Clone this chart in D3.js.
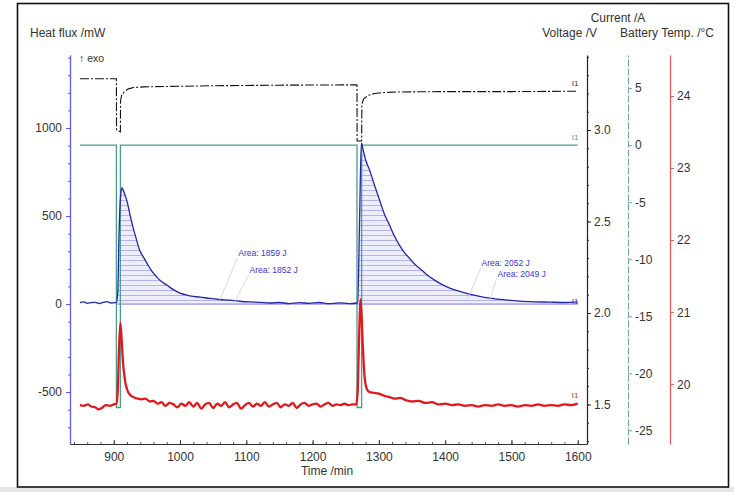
<!DOCTYPE html>
<html><head><meta charset="utf-8">
<script src="https://d3js.org/d3.v7.min.js"></script>
<style>
body{margin:0;background:#fff}
text{font-family:"Liberation Sans",Arial,sans-serif}
</style>
</head><body>
<svg id="chart" width="734" height="492"></svg>
<script>
// heat flux /mW  [time min, value]
var heatFlux = [[849,8],[855,12],[860,4],[866,8],[872,10],[878,3],[884,9],[890,14],[896,6],[902,8],[904,10],
	[906,60],[908,400],[911,640],[912.5,660],[916,630],[920,585],[925,500],[929,437],[934,370],[939,307],[945,265],
	[950,233],[957,190],[965,153],[972,128],[980,108],[990,82],[1000,62],[1010,51],[1020,44],[1030,40],[1045,32],
	[1060,26],[1075,22],[1090,16],[1105,12],[1120,10],[1135,6],[1150,9],[1165,3],[1180,8],[1195,4],[1210,9],
	[1225,2],[1240,7],[1255,3],[1266,6],
	[1268,8],[1271,500],[1273.5,915],[1276,880],[1280,820],[1286,761],[1293,680],[1301,591],[1308,515],[1316,449],
	[1323,390],[1331,335],[1338,295],[1346,261],[1353,230],[1361,205],[1372,168],[1384,136],[1395,112],[1407,91],
	[1422,72],[1437,57],[1452,44],[1467,34],[1490,24],[1512,17],[1535,13],[1558,11],[1580,9],[1600,12]];

// voltage /V
var voltage = [[849,3.28],[904,3.28],[904.2,3.0],[910,2.99],[910.3,3.16],[912,3.19],[916,3.21],[922,3.225],
	[930,3.232],[945,3.236],[980,3.238],[1050,3.242],[1150,3.245],[1267,3.247],[1267.2,2.94],[1274,2.94],
	[1274.3,3.14],[1277,3.17],[1284,3.19],[1294,3.2],[1307,3.205],[1330,3.208],[1400,3.21],[1500,3.21],[1600,3.212]];

// current /A
var current = [[849,0],[904,0],[904.01,-23],[910,-23],[910.01,0],[1267,0],[1267.01,-23],[1274,-23],[1274.01,0],[1600,0]];

// battery temp /°C
var batteryTemp = [[849,19.71],[855,19.70],[861,19.72],[866,19.69],[872,19.68],[877,19.65],[882,19.67],[888,19.71],
	[894,19.70],[900,19.72],[904,19.73],[906,19.9],[908,20.5],[910,20.85],[912,20.6],[914,20.3],[917,20.05],
	[920,19.93],[925,19.85],[930,19.82],[936,19.80],[942,19.79],[948,19.80],[954,19.76],[960,19.77],[966,19.73],
	[972,19.75],[978,19.70],[984,19.74],[990,19.72],[996,19.68],[1002,19.73],[1008,19.70],[1014,19.75],[1020,19.69],
	[1026,19.74],[1032,19.66],[1038,19.72],[1044,19.74],[1050,19.67],[1056,19.73],[1062,19.70],[1068,19.75],
	[1074,19.68],[1080,19.72],[1086,19.74],[1092,19.66],[1098,19.71],[1104,19.74],[1110,19.69],[1116,19.73],
	[1122,19.70],[1128,19.75],[1134,19.69],[1140,19.72],[1146,19.74],[1152,19.68],[1158,19.72],[1164,19.70],
	[1170,19.74],[1176,19.67],[1182,19.72],[1188,19.74],[1194,19.70],[1200,19.72],[1206,19.73],[1212,19.69],
	[1218,19.72],[1224,19.74],[1230,19.70],[1236,19.72],[1242,19.71],[1248,19.73],[1254,19.71],[1260,19.72],
	[1266,19.72],[1268,19.9],[1270,20.6],[1272.5,21.18],[1275,20.7],[1277,20.3],[1279,20.05],[1282,19.93],
	[1286,19.89],[1292,19.88],[1300,19.87],[1308,19.84],[1316,19.82],[1324,19.80],[1332,19.81],[1340,19.78],
	[1350,19.76],[1360,19.77],[1370,19.74],[1380,19.75],[1390,19.72],[1400,19.73],[1410,19.71],[1420,19.72],
	[1430,19.70],[1440,19.71],[1450,19.69],[1460,19.71],[1470,19.70],[1480,19.72],[1490,19.70],[1500,19.71],
	[1510,19.69],[1520,19.71],[1530,19.70],[1540,19.72],[1550,19.70],[1560,19.71],[1570,19.70],[1580,19.72],
	[1590,19.71],[1600,19.73]];

// integrated peaks: [from, to]
var peakRanges = [[904.5,1266],[1268,1600]];
// area labels: text, time, heat flux position, leader end [time, value]
var areaLabels = [
	{text:"Area: 1859 J", t:1088, v:272, lt:1060, lv:23},
	{text:"Area: 1852 J", t:1105, v:176, lt:1082, lv:11},
	{text:"Area: 2052 J", t:1455, v:216, lt:1434, lv:28},
	{text:"Area: 2049 J", t:1479, v:153, lt:1467, lv:23}
];

var timeTicks = [900,1000,1100,1200,1300,1400,1500,1600];
var heatTicks = [-500,0,500,1000];
var voltTicks = [1.5,2.0,2.5,3.0];
var currTicks = [5,0,-5,-10,-15,-20,-25];
var tempTicks = [20,21,22,23,24];

var svg = d3.select("#chart");
var top_ = 55, bottom = 444, left = 70, right = 587;
var plain = function(d){ return String(d); };

var x = d3.scaleLinear().domain([834,1614]).range([left,right]);
var yH = d3.scaleLinear().domain([-795,1415]).range([bottom,top_]);
var yV = d3.scaleLinear().domain([1.284,3.41]).range([bottom,top_]);
var yI = d3.scaleLinear().domain([-26.2,7.9]).range([bottom,top_]);
var yT = d3.scaleLinear().domain([19.17,24.57]).range([bottom,top_]);

// outer frame
svg.append("rect").attr("x",0).attr("y",487).attr("width",734).attr("height",5).attr("fill","#e6e6e6");
svg.append("rect").attr("x",17.5).attr("y",3.5).attr("width",711).attr("height",483.5)
	.attr("fill","none").attr("stroke","#111").attr("stroke-width",1.6);

// hatch pattern
var defs = svg.append("defs");
var pat = defs.append("pattern").attr("id","hatch").attr("patternUnits","userSpaceOnUse")
	.attr("width",4).attr("height",5);
pat.append("rect").attr("width",4).attr("height",5).attr("fill","#eeeefc");
pat.append("line").attr("x1",0).attr("x2",4).attr("y1",0.5).attr("y2",0.5)
	.attr("stroke","#9a9aea").attr("stroke-width",0.7);

// bottom time axis
var gx = svg.append("g").attr("transform","translate(0,"+bottom+")");
gx.call(d3.axisBottom(x).tickValues(d3.range(840,1620,20)).tickSize(-2).tickFormat(""))
	.select(".domain").remove();
gx.selectAll(".tick line").attr("stroke","#555");
var gx2 = svg.append("g").attr("transform","translate(0,"+bottom+")");
gx2.call(d3.axisBottom(x).tickValues(timeTicks).tickSize(-4).tickSizeOuter(0).tickPadding(8).tickFormat(plain));
gx2.select(".domain").attr("stroke","#333");
gx2.selectAll(".tick line").attr("stroke","#333");
gx2.selectAll("text").attr("fill","#333").attr("font-size",12);
svg.append("text").attr("x",327).attr("y",475).attr("text-anchor","middle")
	.attr("font-size",12).attr("fill","#333").text("Time /min");

// left heat flux axis
var gH = svg.append("g").attr("transform","translate("+left+",0)");
gH.call(d3.axisLeft(yH).tickValues(d3.range(-700,1401,100)).tickSize(2).tickFormat(""));
gH.select(".domain").remove();
gH.selectAll(".tick line").attr("stroke","#5b5bee");
var gH2 = svg.append("g").attr("transform","translate("+left+",0)");
gH2.call(d3.axisLeft(yH).tickValues(heatTicks).tickSize(4).tickSizeOuter(0).tickPadding(4).tickFormat(plain));
gH2.select(".domain").attr("stroke","#5b5bee").attr("stroke-width",1.3);
gH2.selectAll(".tick line").attr("stroke","#5b5bee");
gH2.selectAll("text").attr("fill","#333").attr("font-size",12);

// voltage axis
var gV = svg.append("g").attr("transform","translate("+right+",0)");
gV.call(d3.axisRight(yV).tickValues(d3.range(1.3,3.41,0.1)).tickSize(2).tickFormat(""));
gV.select(".domain").remove();
gV.selectAll(".tick line").attr("stroke","#222");
var gV2 = svg.append("g").attr("transform","translate("+right+",0)");
gV2.call(d3.axisRight(yV).tickValues(voltTicks).tickSize(4).tickSizeOuter(0).tickPadding(3)
	.tickFormat(function(d){ return d.toFixed(1); }));
gV2.select(".domain").attr("stroke","#222").attr("stroke-width",1.2);
gV2.selectAll(".tick line").attr("stroke","#222");
gV2.selectAll("text").attr("fill","#333").attr("font-size",12);

// current axis
var gI = svg.append("g").attr("transform","translate(628,0)");
gI.call(d3.axisRight(yI).tickValues(currTicks).tickSize(4).tickSizeOuter(0).tickPadding(3).tickFormat(plain));
gI.select(".domain").attr("stroke","#6aa89a").attr("stroke-dasharray","7,2");
gI.selectAll(".tick line").attr("stroke","#6aa89a");
gI.selectAll("text").attr("fill","#333").attr("font-size",12);

// temp axis
var gT = svg.append("g").attr("transform","translate(670,0)");
gT.call(d3.axisRight(yT).tickValues(tempTicks).tickSize(4).tickSizeOuter(0).tickPadding(3).tickFormat(plain));
gT.select(".domain").attr("stroke","#e8505a").attr("stroke-width",1.2);
gT.selectAll(".tick line").attr("stroke","#e8505a");
gT.selectAll("text").attr("fill","#333").attr("font-size",12);

// axis titles
function label(txt,xp,yp,anchor,size){
	return svg.append("text").attr("x",xp).attr("y",yp).attr("text-anchor",anchor||"start")
		.attr("font-size",size||12).attr("fill","#333").text(txt);
}
label("Heat flux /mW",30,37);
label("Current /A",618,22,"middle");
label("Voltage /V",597,37,"end");
label("Battery Temp. /°C",620,37);
label("\u2191 exo",79,62,"start",10.5);

// hatched peak areas
var area = d3.area().x(function(d){ return x(d[0]); })
	.y0(yH(0)).y1(function(d){ return yH(d[1]); });
peakRanges.forEach(function(r){
	var seg = heatFlux.filter(function(d){ return d[0] >= r[0] && d[0] <= r[1]; });
	svg.append("path").datum(seg).attr("d",area).attr("fill","url(#hatch)");
});
// integration baseline
svg.append("line").attr("x1",x(peakRanges[0][0])).attr("x2",x(1600))
	.attr("y1",yH(0)).attr("y2",yH(0)).attr("stroke","#7b7be8").attr("stroke-width",1);

var line = d3.line().x(function(d){ return x(d[0]); });

// current
svg.append("path").datum(current)
	.attr("d",line.y(function(d){ return yI(d[1]); }))
	.attr("fill","none").attr("stroke","#4a9e8e").attr("stroke-width",1.3);

// battery temp
svg.append("path").datum(batteryTemp)
	.attr("d",line.y(function(d){ return yT(d[1]); }).curve(d3.curveMonotoneX))
	.attr("fill","none").attr("stroke","#e3181c").attr("stroke-width",2.3);

// heat flux
svg.append("path").datum(heatFlux)
	.attr("d",line.y(function(d){ return yH(d[1]); }).curve(d3.curveMonotoneX))
	.attr("fill","none").attr("stroke","#2525aa").attr("stroke-width",1.3);

// voltage
svg.append("path").datum(voltage)
	.attr("d",line.y(function(d){ return yV(d[1]); }).curve(d3.curveLinear))
	.attr("fill","none").attr("stroke","#111").attr("stroke-width",1.1).attr("stroke-dasharray","9,2,2,2");

// area labels with leader lines
areaLabels.forEach(function(a){
	svg.append("line").attr("x1",x(a.t)-1).attr("y1",yH(a.v)+2)
		.attr("x2",x(a.lt)).attr("y2",yH(a.lv))
		.attr("stroke","#bcd6c4").attr("stroke-width",0.8);
	svg.append("text").attr("x",x(a.t)).attr("y",yH(a.v)).attr("font-size",8.5)
		.attr("fill","#3535d0").text(a.text);
});

// curve end labels
var endLabels = [
	{y: yV(voltage[voltage.length-1][1]) - 5, c:"#333"},
	{y: yI(0) - 5, c:"#4a9e8e"},
	{y: yH(heatFlux[heatFlux.length-1][1]) + 2, c:"#3535d0"},
	{y: yT(batteryTemp[batteryTemp.length-1][1]) - 6, c:"#c03030"}
];
endLabels.forEach(function(e){
	svg.append("text").attr("x",x(1600)-6).attr("y",e.y).attr("font-size",8)
		.attr("fill",e.c).text("I1");
});
</script>
</body></html>
